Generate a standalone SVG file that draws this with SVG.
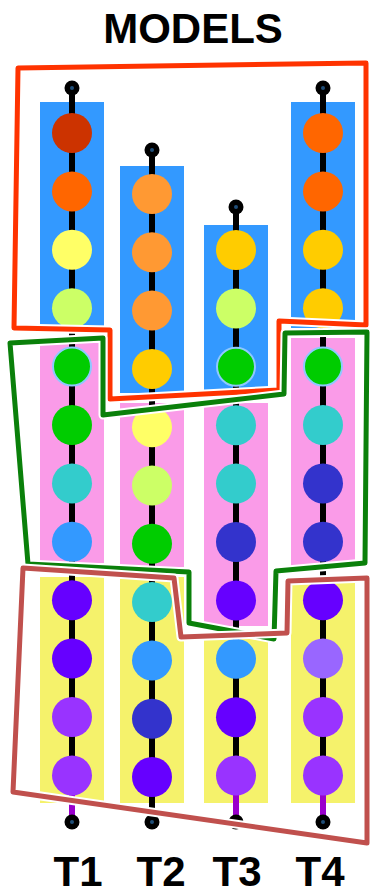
<svg xmlns="http://www.w3.org/2000/svg" width="370" height="896" viewBox="0 0 370 896">
  <style>
    .title { font-family: "Liberation Sans", Arial, sans-serif; font-weight: bold; font-size: 42px; fill: #000; text-anchor: middle; }
    .lbl { font-family: "Liberation Sans", Arial, sans-serif; font-weight: bold; font-size: 42px; fill: #000; text-anchor: middle; }
    .blue { fill: #3399ff; }
    .pink { fill: #fa9be8; }
    .yel { fill: #f5f26b; }
    .stem { stroke: #000; stroke-width: 6; fill: none; }
    .tail { stroke: #9900cc; stroke-width: 6; fill: none; }
    .hi { stroke: #8fc8ff; stroke-width: 2; }
    .halo { fill: none; stroke: #fff; stroke-width: 9; stroke-linejoin: round; }
    .edge { fill: none; stroke-width: 5; stroke-linejoin: round; }
  </style>
  <defs>
    <g id="pin">
      <circle r="7.5" fill="#000"/>
      <circle r="2" fill="#1f4e79"/>
    </g>
  </defs>

  <rect width="370" height="896" fill="#fff"/>

  <text class="title" x="193" y="43">MODELS</text>

  <!-- column bands -->
  <g id="bands">
    <rect class="blue" x="40" y="102" width="64" height="226"/>
    <rect class="pink" x="40" y="340" width="64" height="223"/>
    <rect class="yel" x="40" y="577" width="64" height="226"/>

    <rect class="blue" x="120" y="166" width="64" height="227"/>
    <rect class="pink" x="120" y="403" width="64" height="164"/>
    <rect class="yel" x="120" y="577" width="64" height="226"/>

    <rect class="blue" x="204" y="225" width="64" height="167"/>
    <rect class="pink" x="204" y="403" width="64" height="223"/>
    <rect class="yel" x="204" y="632" width="64" height="171"/>

    <rect class="blue" x="291" y="102" width="64" height="226"/>
    <rect class="pink" x="291" y="338" width="64" height="228"/>
    <rect class="yel" x="291" y="580" width="64" height="223"/>
  </g>

  <!-- chains -->
  <g id="connectors">
    <line class="stem" x1="72" y1="88" x2="72" y2="775"/>
    <line class="tail" x1="72" y1="775" x2="72" y2="822"/>
    <line class="stem" x1="152" y1="150" x2="152" y2="822"/>
    <line class="stem" x1="236" y1="207" x2="236" y2="776"/>
    <line class="tail" x1="236" y1="776" x2="236" y2="822"/>
    <line class="stem" x1="323" y1="88" x2="323" y2="775"/>
    <line class="tail" x1="323" y1="775" x2="323" y2="822"/>
  </g>

  <g id="T1">
    <use href="#pin" x="72" y="88"/>
    <circle cx="72" cy="133" r="20" fill="#cc3300"/>
    <circle cx="72" cy="191.4" r="20" fill="#ff6600"/>
    <circle cx="72" cy="249.8" r="20" fill="#ffff66"/>
    <circle cx="72" cy="308.2" r="20" fill="#ccff66"/>
    <circle class="hi" cx="72" cy="366.6" r="19" fill="#00cc00"/>
    <circle cx="72" cy="425" r="20" fill="#00cc00"/>
    <circle cx="72" cy="483.4" r="20" fill="#33cccc"/>
    <circle cx="72" cy="541.8" r="20" fill="#3399ff"/>
    <circle cx="72" cy="600.2" r="20" fill="#6600ff"/>
    <circle cx="72" cy="658.6" r="20" fill="#6600ff"/>
    <circle cx="72" cy="717" r="20" fill="#9933ff"/>
    <circle cx="72" cy="775.4" r="20" fill="#9933ff"/>
    <use href="#pin" x="72" y="822"/>
  </g>

  <g id="T2">
    <use href="#pin" x="152" y="150"/>
    <circle cx="152" cy="194" r="20" fill="#ff9933"/>
    <circle cx="152" cy="252.3" r="20" fill="#ff9933"/>
    <circle cx="152" cy="310.6" r="20" fill="#ff9933"/>
    <circle cx="152" cy="368.9" r="20" fill="#ffcc00"/>
    <circle cx="152" cy="427.2" r="20" fill="#ffff66"/>
    <circle cx="152" cy="485.5" r="20" fill="#ccff66"/>
    <circle cx="152" cy="543.8" r="20" fill="#00cc00"/>
    <circle cx="152" cy="602.1" r="20" fill="#33cccc"/>
    <circle cx="152" cy="660.4" r="20" fill="#3399ff"/>
    <circle cx="152" cy="718.7" r="20" fill="#3333cc"/>
    <circle cx="152" cy="777" r="20" fill="#6600ff"/>
    <use href="#pin" x="152" y="822"/>
  </g>

  <g id="T3">
    <use href="#pin" x="236" y="207"/>
    <circle cx="236" cy="250" r="20" fill="#ffcc00"/>
    <circle cx="236" cy="308.4" r="20" fill="#ccff66"/>
    <circle class="hi" cx="236" cy="366.8" r="19" fill="#00cc00"/>
    <circle cx="236" cy="425.2" r="20" fill="#33cccc"/>
    <circle cx="236" cy="483.6" r="20" fill="#33cccc"/>
    <circle cx="236" cy="542" r="20" fill="#3333cc"/>
    <circle cx="236" cy="600.4" r="20" fill="#6600ff"/>
    <circle cx="236" cy="658.8" r="20" fill="#3399ff"/>
    <circle cx="236" cy="717.2" r="20" fill="#6600ff"/>
    <circle cx="236" cy="775.6" r="20" fill="#9933ff"/>
    <use href="#pin" x="236" y="822"/>
  </g>

  <g id="T4">
    <use href="#pin" x="323" y="88"/>
    <circle cx="323" cy="133" r="20" fill="#ff6600"/>
    <circle cx="323" cy="191.4" r="20" fill="#ff6600"/>
    <circle cx="323" cy="249.8" r="20" fill="#ffcc00"/>
    <circle cx="323" cy="308.2" r="20" fill="#ffcc00"/>
    <circle class="hi" cx="323" cy="366.6" r="19" fill="#00cc00"/>
    <circle cx="323" cy="425" r="20" fill="#33cccc"/>
    <circle cx="323" cy="483.4" r="20" fill="#3333cc"/>
    <circle cx="323" cy="541.8" r="20" fill="#3333cc"/>
    <circle cx="323" cy="600.2" r="20" fill="#6600ff"/>
    <circle cx="323" cy="658.6" r="20" fill="#9966ff"/>
    <circle cx="323" cy="717" r="20" fill="#9933ff"/>
    <circle cx="323" cy="775.4" r="20" fill="#9933ff"/>
    <use href="#pin" x="323" y="822"/>
  </g>

  <!-- hand-drawn grouping outlines -->
  <g id="groups">
    <path class="halo" d="M18,68 L366,63 L366,325 L279,321 L279,390 L110,399 L110,330 L14,328 Z"/>
    <path id="g-red" class="edge" stroke="#ff3300" d="M18,68 L366,63 L366,325 L279,321 L279,390 L110,399 L110,330 L14,328 Z"/>
    <path class="halo" d="M10,343 L103,338 L103,415 L284,394 L285,333 L367,332 L365,563 L276,571 L274,639 L189,623 L189,572 L28,564 Z"/>
    <path id="g-green" class="edge" stroke="#0a800a" d="M10,343 L103,338 L103,415 L284,394 L285,333 L367,332 L365,563 L276,571 L274,639 L189,623 L189,572 L28,564 Z"/>
    <path class="halo" d="M23,568 L174,578 L181,637 L287,633 L288,581 L367,578 L367,843 L13,792 Z"/>
    <path id="g-brown" class="edge" stroke="#c0504d" d="M23,568 L174,578 L181,637 L287,633 L288,581 L367,578 L367,843 L13,792 Z"/>
  </g>

  <g id="labels">
    <text class="lbl" x="78" y="886">T1</text>
    <text class="lbl" x="161" y="886">T2</text>
    <text class="lbl" x="237" y="886">T3</text>
    <text class="lbl" x="320" y="886">T4</text>
  </g>
</svg>
